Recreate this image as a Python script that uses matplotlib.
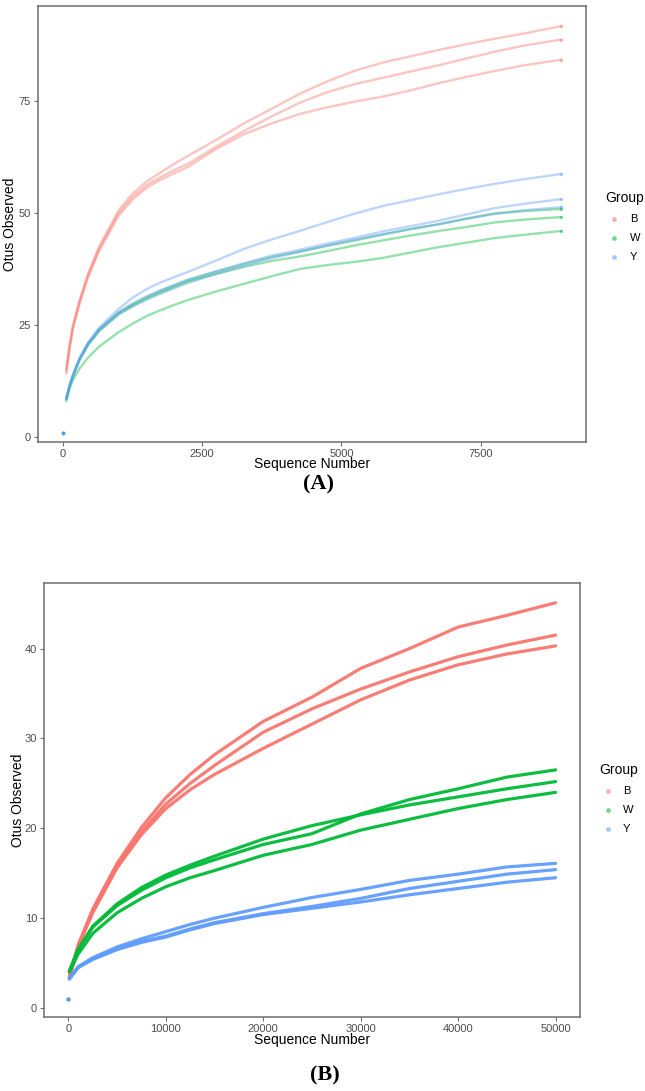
import matplotlib
matplotlib.use("Agg")
import matplotlib.pyplot as plt
from matplotlib.lines import Line2D

plt.rcParams['font.family'] = ['Liberation Sans', 'DejaVu Sans']

# ---------------- data: panel A ----------------
xa = [0, 60, 120, 180, 300, 450, 650, 1000, 1250, 1500, 1750, 2000, 2250, 2750, 3250,
      3750, 4250, 4750, 5250, 5750, 6250, 6750, 7250, 7750, 8250, 8943]
a_B1 = [1, 15.2, 20.6, 25.0, 30.6, 36.5, 42.5, 50.6, 54.3, 57.0, 59.0, 61.0, 62.8, 66.3, 70.0,
        73.3, 76.6, 79.4, 81.8, 83.6, 85.0, 86.4, 87.7, 88.9, 90.0, 91.7]
a_B2 = [1, 14.6, 20.1, 24.6, 30.2, 36.0, 42.0, 50.0, 53.6, 56.2, 58.0, 59.6, 61.0, 64.8, 68.3,
        71.6, 74.6, 77.0, 78.8, 80.2, 81.6, 83.0, 84.5, 86.0, 87.3, 88.7]
a_B3 = [1, 14.1, 19.7, 24.1, 29.8, 35.6, 41.5, 49.4, 53.0, 55.6, 57.4, 58.9, 60.3, 64.3, 67.6,
        70.0, 72.1, 73.6, 74.9, 76.0, 77.4, 79.0, 80.4, 81.7, 82.9, 84.2]
a_W1 = [1, 8.6, 11.5, 13.8, 17.5, 20.8, 24.0, 27.8, 29.6, 31.2, 32.6, 33.8, 35.0, 36.9, 38.6,
        40.2, 41.4, 42.7, 43.9, 45.2, 46.4, 47.5, 48.8, 49.9, 50.4, 50.9]
a_W2 = [1, 8.4, 11.3, 13.5, 17.2, 20.5, 23.6, 27.5, 29.3, 30.9, 32.2, 33.5, 34.7, 36.4, 38.0,
        39.3, 40.3, 41.5, 42.8, 43.9, 45.0, 46.0, 46.9, 47.9, 48.5, 49.1]
a_W3 = [1, 8.0, 10.8, 12.8, 15.3, 17.7, 20.2, 23.4, 25.3, 27.0, 28.3, 29.5, 30.6, 32.5, 34.2,
        35.9, 37.5, 38.4, 39.1, 40.0, 41.2, 42.4, 43.4, 44.4, 45.1, 46.0]
a_Y1 = [1, 8.8, 11.6, 13.9, 17.7, 21.1, 24.4, 28.6, 31.1, 33.0, 34.5, 35.7, 36.9, 39.4, 42.0,
        44.1, 46.0, 48.0, 49.9, 51.6, 52.9, 54.2, 55.4, 56.5, 57.5, 58.7]
a_Y2 = [1, 8.6, 11.5, 13.8, 17.5, 20.9, 24.1, 27.9, 29.8, 31.4, 32.8, 34.0, 35.2, 37.0, 38.8,
        40.5, 41.8, 43.2, 44.5, 45.9, 47.1, 48.3, 49.7, 51.1, 52.0, 53.1]
a_Y3 = [1, 8.4, 11.3, 13.6, 17.3, 20.6, 23.8, 27.3, 29.1, 30.6, 32.0, 33.2, 34.4, 36.4, 38.2,
        39.9, 41.3, 42.8, 44.1, 45.3, 46.5, 47.5, 48.7, 49.8, 50.6, 51.3]

# ---------------- data: panel B ----------------
xb = [0, 100, 1000, 2500, 5000, 7500, 10000, 12500, 15000, 20000, 25000, 30000,
      35000, 40000, 45000, 50000]
b_B1 = [1, 3.5, 7.0, 11.0, 16.1, 20.1, 23.4, 26.0, 28.2, 31.9, 34.6, 37.8, 40.0, 42.4, 43.7, 45.1]
b_B2 = [1, 3.4, 6.9, 10.8, 15.8, 19.6, 22.7, 25.0, 27.0, 30.7, 33.3, 35.5, 37.4, 39.1, 40.4, 41.5]
b_B3 = [1, 3.3, 6.8, 10.6, 15.6, 19.3, 22.2, 24.3, 26.0, 28.9, 31.6, 34.3, 36.5, 38.2, 39.4, 40.3]
b_W1 = [1, 4.1, 6.5, 9.0, 11.4, 13.1, 14.5, 15.6, 16.5, 18.2, 19.4, 21.6, 23.2, 24.4, 25.7, 26.5]
b_W2 = [1, 4.1, 6.5, 9.1, 11.6, 13.4, 14.8, 15.9, 16.9, 18.8, 20.3, 21.5, 22.6, 23.5, 24.4, 25.2]
b_W3 = [1, 4.0, 6.0, 8.3, 10.6, 12.2, 13.5, 14.5, 15.3, 17.0, 18.2, 19.8, 21.0, 22.2, 23.2, 24.0]
b_Y1 = [1, 3.3, 4.6, 5.6, 6.8, 7.7, 8.5, 9.3, 10.0, 11.2, 12.3, 13.2, 14.2, 14.9, 15.7, 16.1]
b_Y2 = [1, 3.3, 4.5, 5.5, 6.6, 7.4, 8.0, 8.8, 9.5, 10.5, 11.3, 12.2, 13.3, 14.1, 14.9, 15.4]
b_Y3 = [1, 3.2, 4.5, 5.4, 6.5, 7.3, 7.9, 8.7, 9.4, 10.4, 11.1, 11.8, 12.6, 13.3, 14.0, 14.5]

groups = ["B", "W", "Y"]
colors = {"B": "#F8766D", "W": "#00BA38", "Y": "#619CFF"}
xticks_a = [0, 2500, 5000, 7500]
yticks_a = [0, 25, 50, 75]
xticks_b = [0, 10000, 20000, 30000, 40000, 50000]
yticks_b = [0, 10, 20, 30, 40]

series_a = {"B": [a_B1, a_B2, a_B3], "W": [a_W1, a_W2, a_W3], "Y": [a_Y1, a_Y2, a_Y3]}
series_b = {"B": [b_B1, b_B2, b_B3], "W": [b_W1, b_W2, b_W3], "Y": [b_Y1, b_Y2, b_Y3]}

W, H = 645, 1091
fig = plt.figure(figsize=(W / 100, H / 100), dpi=100)


def frac_box(l, t, r, b):
    return [l / W, 1 - b / H, (r - l) / W, (b - t) / H]


def style(ax, xt, yt, xlab_off):
    for s in ax.spines.values():
        s.set_color("#6e6e6e")
        s.set_linewidth(1.1)
    ax.set_xticks(xt)
    ax.set_yticks(yt)
    ax.tick_params(length=3, width=0.8, color="#6e6e6e", labelsize=8,
                   labelcolor="#4D4D4D", pad=2)
    ax.text(0.5, xlab_off, "Sequence Number", transform=ax.transAxes,
            ha="center", va="center", fontsize=10)


# ---------------- Panel A ----------------
axA = fig.add_axes(frac_box(38, 6, 586, 442))
for g in groups:
    for ys in series_a[g]:
        axA.plot(xa[1:], ys[1:], color=colors[g], alpha=0.42, lw=1.7,
                 solid_capstyle="round", solid_joinstyle="round")
        axA.scatter([xa[0], xa[-1]], [ys[0], ys[-1]], s=6, color=colors[g],
                    alpha=0.5, linewidths=0)
axA.set_xlim(-447, 9390)
axA.set_ylim(-1.1, 96.2)
style(axA, xticks_a, yticks_a, -0.05)
axA.text(-0.051, 0.5, "Otus Observed", transform=axA.transAxes, rotation=90,
         ha="center", va="center", fontsize=10)

# ---------------- Panel B ----------------
axB = fig.add_axes(frac_box(44, 583, 580, 1017))
for g in groups:
    for ys in series_b[g]:
        axB.plot(xb[1:], ys[1:], color=colors[g], alpha=0.95, lw=2.3,
                 solid_capstyle="round", solid_joinstyle="round")
        axB.scatter([xb[0]], [ys[0]], s=7, color=colors[g], alpha=0.6,
                    linewidths=0)
axB.set_xlim(-2500, 52500)
axB.set_ylim(-1.0, 47.3)
style(axB, xticks_b, yticks_b, -0.053)
axB.text(-0.0485, 0.5, "Otus Observed", transform=axB.transAxes, rotation=90,
         ha="center", va="center", fontsize=10)


# ---------------- legends ----------------
def legend(title_x, title_y, dot_x, lab_x, ys):
    fig.text(title_x / W, 1 - title_y / H, "Group", fontsize=10,
             ha="left", va="center")
    for g, y in zip(groups, ys):
        fig.add_artist(Line2D([dot_x / W], [1 - y / H], marker="o", markersize=2.5,
                              color=colors[g], alpha=0.45, lw=0,
                              transform=fig.transFigure))
        fig.text(lab_x / W, 1 - y / H, g, fontsize=8, ha="left", va="center")


legend(605, 198, 614, 630, [219, 238, 257])
legend(599, 770, 608, 623, [791, 810, 829])

# ---------------- panel captions ----------------
fig.text(318 / W, 1 - 484 / H, "(A)", fontsize=16, fontweight="bold",
         family="Liberation Serif", ha="center", va="center")
fig.text(325 / W, 1 - 1075 / H, "(B)", fontsize=16, fontweight="bold",
         family="Liberation Serif", ha="center", va="center")

fig.savefig("out.png", dpi=100)
